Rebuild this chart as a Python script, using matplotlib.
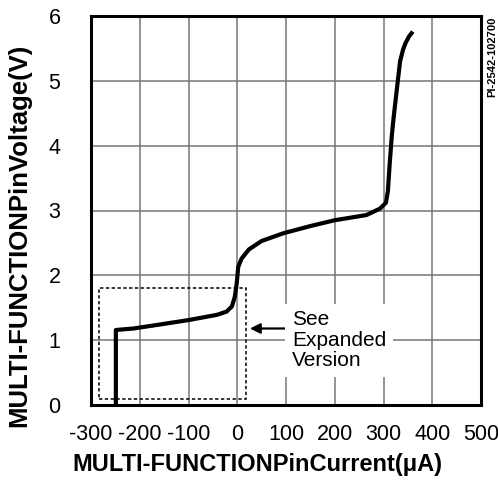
import matplotlib.pyplot as plt
from matplotlib.patches import Rectangle

plt.rcParams['font.family'] = ['Liberation Sans', 'DejaVu Sans']
plt.rcParams['axes.unicode_minus'] = False

# curve (current in uA, voltage in V)
current = [-249, -249, -249, -213, -160, -100, -42, -22, -11, -5, -1, 2, 9, 24,
           50, 95, 150, 200, 265, 293, 305, 309, 313, 317, 321, 328, 334, 340, 345, 352, 360]
voltage = [0.0, 1.0, 1.157, 1.18, 1.24, 1.31, 1.39, 1.44, 1.52, 1.67, 1.88, 2.13, 2.26, 2.40,
           2.53, 2.65, 2.76, 2.85, 2.93, 3.03, 3.12, 3.30, 3.75, 4.15, 4.45, 4.91, 5.30, 5.48, 5.58, 5.68, 5.76]

xticks = [-300, -200, -100, 0, 100, 200, 300, 400, 500]
yticks = [0, 1, 2, 3, 4, 5, 6]

fig = plt.figure(figsize=(4.98, 4.83), dpi=100)
ax = fig.add_axes([91/498, 1 - 405/483, 390/498, 389/483])

ax.plot(current, voltage, color='black', linewidth=3, solid_capstyle='butt',
        solid_joinstyle='round', zorder=4)

# dashed box for the expanded region
ax.add_patch(Rectangle((-283, 0.1), 301, 1.7, fill=False, linestyle=(0, (2.2, 1.6)),
                       linewidth=1.1, edgecolor='black', zorder=3))

ax.annotate('', xy=(26, 1.18), xytext=(100, 1.18),
            arrowprops=dict(arrowstyle='-|>', color='black', lw=1.6, mutation_scale=15,
                            shrinkA=0, shrinkB=0), zorder=5)
ax.text(112, 1.0, 'See\nExpanded\nVersion', ha='left', va='center', fontsize=15,
        linespacing=1.08, zorder=5,
        bbox=dict(facecolor='white', edgecolor='none', pad=5))

ax.set_xlim(-300, 500)
ax.set_ylim(0, 6)
ax.set_xticks(xticks)
ax.set_yticks(yticks)
ax.tick_params(length=0, labelsize=15.5)
ax.tick_params(axis='x', pad=14)
ax.tick_params(axis='y', pad=22)
ax.grid(True, color='#777777', linewidth=1.1)
ax.set_axisbelow(True)
for s in ax.spines.values():
    s.set_linewidth(2.2)

fig.text(257/498, 1 - 465/483, 'MULTI-FUNCTIONPinCurrent(\u03bcA)', ha='center', va='center',
         fontsize=17, fontweight='bold')
fig.text(19/498, 1 - 235/483, 'MULTI-FUNCTIONPinVoltage(V)', ha='center', va='center',
         rotation=90, fontsize=18.5, fontweight='bold')

fig.text(492/498, 1 - 17/483, 'PI-2542-102700', rotation=90, ha='center', va='top',
         fontsize=8, fontweight='bold')

fig.savefig('out.png', dpi=100)
